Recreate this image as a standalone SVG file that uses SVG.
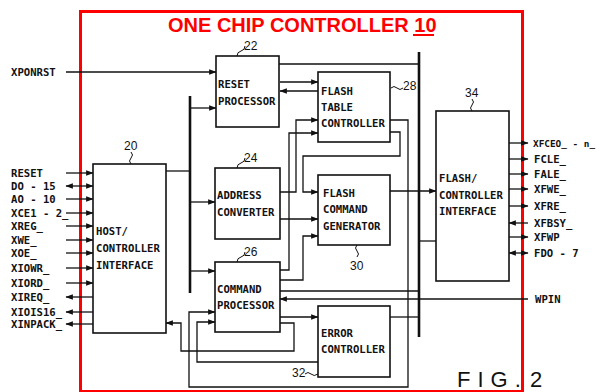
<svg xmlns="http://www.w3.org/2000/svg" width="601" height="392" viewBox="0 0 601 392">
<defs>
<marker id="arr" markerUnits="userSpaceOnUse" markerWidth="8" markerHeight="8" refX="6" refY="3" orient="auto-start-reverse" viewBox="0 0 7 6">
<path d="M0,0.5 L6.5,3 L0,5.5 Z" fill="#111"/>
</marker>
</defs>
<style>
.box{fill:#fff;stroke:#111;stroke-width:1.6}
.lbl{font-family:"DejaVu Sans Mono","Liberation Mono",monospace;font-weight:bold;font-size:10.6px;fill:#111}
.num{font-family:"Liberation Sans",Arial,sans-serif;font-size:12px;fill:#111}
.ln{fill:none;stroke:#111;stroke-width:1.3}
.a{marker-end:url(#arr)}
.b{marker-start:url(#arr);marker-end:url(#arr)}
.bus{fill:none;stroke:#111;stroke-width:2.6}
.sq{fill:none;stroke:#111;stroke-width:1}
</style>
<rect width="601" height="392" fill="#fff"/>
<rect x="80.5" y="11.5" width="442" height="380" fill="none" stroke="#f00" stroke-width="3"/>
<text x="168" y="32" font-family="Liberation Sans,Arial,sans-serif" font-weight="bold" font-size="20" fill="#f00">ONE CHIP CONTROLLER 10</text>
<line x1="413" y1="35" x2="434" y2="35" stroke="#f00" stroke-width="2"/>

<g id="connectors">
<line class="bus" x1="190" y1="96" x2="190" y2="293"/>
<line class="bus" x1="419" y1="52" x2="419" y2="337"/>
<path class="ln a" d="M66,72 H216"/>
<path class="ln" d="M166,171 H190"/>
<path class="ln a" d="M190,108 H216"/>
<path class="ln a" d="M190,202 H215"/>
<path class="ln a" d="M190,271 H215"/>
<path class="ln a" d="M280,82 H318"/>
<path class="ln a" d="M318,91 H280"/>
<path class="ln" d="M279,64 H419"/>
<path class="ln a" d="M280,192 H296 V120 H318"/>
<path class="ln a" d="M280,270 H289 V133 H318"/>
<path class="ln a" d="M280,219 H318"/>
<path class="ln a" d="M280,280 H303 V236 H318"/>
<path class="ln a" d="M390,132 H400 V156 H303 V192 H318"/>
<path class="ln a" d="M390,120 H408 V387 H189 V312 H215"/>
<path class="ln a" d="M318,362 H197 V322 H215"/>
<path class="ln a" d="M280,323 H294 V351 H181 V323 H166"/>
<path class="ln a" d="M280,317 H318"/>
<path class="ln" d="M280,291 H419"/>
<path class="ln a" d="M528,299 H280"/>
<path class="ln" d="M390,317 H419"/>
<path class="ln a" d="M390,191 H436"/>
<path class="ln" d="M419,241 H436"/>
<path class="ln a" d="M66,173 H93"/>
<path class="ln b" d="M66,186 H93"/>
<path class="ln a" d="M66,199 H93"/>
<path class="ln a" d="M66,213 H93"/>
<path class="ln a" d="M66,226 H93"/>
<path class="ln a" d="M66,240 H93"/>
<path class="ln a" d="M66,253 H93"/>
<path class="ln a" d="M66,268 H93"/>
<path class="ln a" d="M66,283 H93"/>
<path class="ln a" d="M93,297 H66"/>
<path class="ln a" d="M93,312 H66"/>
<path class="ln a" d="M93,324 H66"/>
<path class="ln a" d="M509,143 H528"/>
<path class="ln a" d="M509,159 H528"/>
<path class="ln a" d="M509,174 H528"/>
<path class="ln a" d="M509,189 H528"/>
<path class="ln a" d="M509,206 H528"/>
<path class="ln a" d="M528,223 H509"/>
<path class="ln a" d="M509,237 H528"/>
<path class="ln b" d="M509,253 H528"/>
</g>

<g id="signals">
<text class="lbl" x="11" y="76">XPONRST</text>
<text class="lbl" x="11" y="177">RESET</text>
<text class="lbl" x="11" y="190">DO - 15</text>
<text class="lbl" x="11" y="203">AO - 10</text>
<text class="lbl" x="11" y="217">XCE1 - 2_</text>
<text class="lbl" x="11" y="230">XREG_</text>
<text class="lbl" x="11" y="244">XWE_</text>
<text class="lbl" x="11" y="257">XOE_</text>
<text class="lbl" x="11" y="272">XIOWR_</text>
<text class="lbl" x="11" y="287">XIORD_</text>
<text class="lbl" x="11" y="301">XIREQ_</text>
<text class="lbl" x="11" y="316">XIOIS16_</text>
<text class="lbl" x="11" y="328">XINPACK_</text>
<text class="lbl" x="533" y="147" style="font-size:9.4px">XFCEO_ - n_</text>
<text class="lbl" x="534" y="163">FCLE_</text>
<text class="lbl" x="534" y="178">FALE_</text>
<text class="lbl" x="534" y="193">XFWE_</text>
<text class="lbl" x="534" y="210">XFRE_</text>
<text class="lbl" x="534" y="227">XFBSY_</text>
<text class="lbl" x="534" y="241">XFWP</text>
<text class="lbl" x="534" y="257">FDO - 7</text>
<text class="lbl" x="535" y="303">WPIN</text>
</g>

<g id="host">
<rect class="box" x="93" y="164" width="73" height="169"/>
<text class="lbl" x="96" y="235">HOST/</text>
<text class="lbl" x="96" y="252">CONTROLLER</text>
<text class="lbl" x="96" y="269">INTERFACE</text>
<path class="sq" d="M131,164 q-3,-3 0,-6 q3,-3 0,-6"/>
<text class="num" x="124" y="150">20</text>
</g>

<g id="reset">
<rect class="box" x="216" y="56" width="63" height="71"/>
<text class="lbl" x="218" y="88">RESET</text>
<text class="lbl" x="218" y="105">PROCESSOR</text>
<path class="sq" d="M237,56 q0,-4 4,-5 q4,-1 4,-5"/>
<text class="num" x="244" y="50">22</text>
</g>

<g id="address">
<rect class="box" x="215" y="168" width="65" height="71"/>
<text class="lbl" x="217" y="199">ADDRESS</text>
<text class="lbl" x="217" y="216">CONVERTER</text>
<path class="sq" d="M237,168 q0,-4 4,-5 q4,-1 4,-5"/>
<text class="num" x="244" y="162">24</text>
</g>

<g id="command">
<rect class="box" x="215" y="262" width="65" height="70"/>
<text class="lbl" x="217" y="293">COMMAND</text>
<text class="lbl" x="217" y="309">PROCESSOR</text>
<path class="sq" d="M237,262 q0,-4 4,-5 q4,-1 4,-5"/>
<text class="num" x="244" y="256">26</text>
</g>

<g id="flashtable">
<rect class="box" x="318" y="72" width="72" height="70"/>
<text class="lbl" x="321" y="95">FLASH</text>
<text class="lbl" x="321" y="111">TABLE</text>
<text class="lbl" x="321" y="127">CONTROLLER</text>
<path class="sq" d="M391,88 q3,-3 6,0 q3,3 6,0"/>
<text class="num" x="403" y="90">28</text>
</g>

<g id="flashcmd">
<rect class="box" x="318" y="175" width="72" height="70"/>
<text class="lbl" x="323" y="197">FLASH</text>
<text class="lbl" x="323" y="213">COMMAND</text>
<text class="lbl" x="323" y="230">GENERATOR</text>
<path class="sq" d="M357,245 q-3,3 0,6 q3,3 0,6"/>
<text class="num" x="350" y="270">30</text>
</g>

<g id="error">
<rect class="box" x="318" y="306" width="72" height="71"/>
<text class="lbl" x="321" y="337">ERROR</text>
<text class="lbl" x="321" y="353">CONTROLLER</text>
<path class="sq" d="M305,374 q3,-3 6,0 q3,3 7,0"/>
<text class="num" x="292" y="377">32</text>
</g>

<g id="flashif">
<rect class="box" x="436" y="111" width="73" height="170"/>
<text class="lbl" x="439" y="182">FLASH/</text>
<text class="lbl" x="439" y="199">CONTROLLER</text>
<text class="lbl" x="439" y="215">INTERFACE</text>
<path class="sq" d="M472,111 q-3,-3 0,-6 q3,-3 0,-6"/>
<text class="num" x="465" y="97">34</text>
</g>

<text x="457" y="387" font-family="Liberation Sans,Arial,sans-serif" font-size="22" fill="#111" letter-spacing="7">FIG.</text>
<text x="530" y="387" font-family="Liberation Sans,Arial,sans-serif" font-size="22" fill="#111">2</text>
</svg>
